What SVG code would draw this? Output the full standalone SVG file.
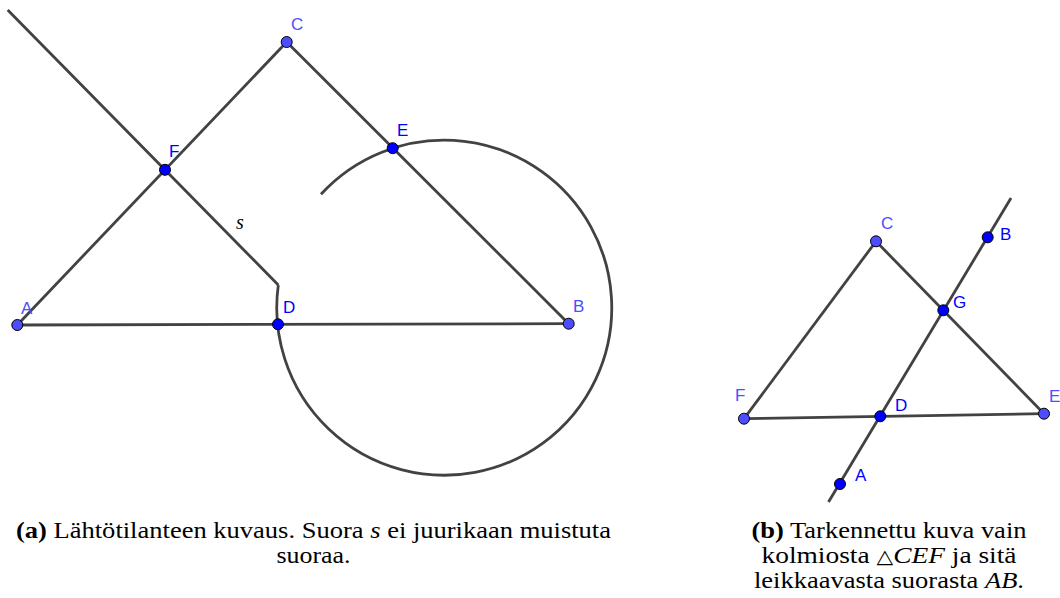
<svg xmlns="http://www.w3.org/2000/svg" width="1060" height="598" viewBox="0 0 1060 598">
<style>
.ln{stroke:#424242;stroke-width:2.8;fill:none;stroke-linecap:butt;stroke-linejoin:miter}
.pf{fill:#4d4dff;stroke:#000;stroke-width:1}
.pd{fill:#0000ff;stroke:#000;stroke-width:1}
.lf{font-family:"Liberation Sans",Arial,sans-serif;font-size:17px;fill:#4d4dff}
.ld{font-family:"Liberation Sans",Arial,sans-serif;font-size:17px;fill:#0000ff}
.cap{font-family:"Liberation Serif","Times New Roman",serif;font-size:24px;fill:#000}
.it{font-style:italic}
.bd{font-weight:bold}
.tri{font-family:"DejaVu Sans",sans-serif;font-size:19px}
</style>
<rect width="1060" height="598" fill="#fff"/>
<g id="connectors">
  <line class="ln" x1="17.3" y1="325" x2="286.7" y2="42"/>
  <line class="ln" x1="286.7" y1="42" x2="568.7" y2="323.7"/>
  <line class="ln" x1="17.3" y1="325" x2="568.7" y2="323.7"/>
  <line class="ln" x1="7.7" y1="10" x2="278.3" y2="285"/>
  <path class="ln" d="M 321 194.3 A 167.5 167.5 0 1 1 278.3 285"/>
  <line class="ln" x1="744" y1="418.7" x2="876" y2="241.3"/>
  <line class="ln" x1="876" y1="241.3" x2="1044" y2="413.7"/>
  <line class="ln" x1="744" y1="418.7" x2="1044" y2="413.7"/>
  <line class="ln" x1="828.5" y1="502" x2="1011" y2="198"/>
</g>
<text class="it" x="236" y="229" font-family="Liberation Serif,serif" font-size="20">s</text>
<g id="a-A"><circle class="pf" cx="17.3" cy="325" r="5.5"/><text class="lf" x="21" y="314">A</text></g>
<g id="a-C"><circle class="pf" cx="286.7" cy="42" r="5.5"/><text class="lf" x="291" y="30">C</text></g>
<g id="a-B"><circle class="pf" cx="568.7" cy="323.7" r="5.5"/><text class="lf" x="573" y="312">B</text></g>
<g id="a-F"><circle class="pd" cx="165" cy="169.8" r="5.5"/><text class="ld" x="169" y="157">F</text></g>
<g id="a-E"><circle class="pd" cx="392.7" cy="148.2" r="5.5"/><text class="ld" x="397" y="136">E</text></g>
<g id="a-D"><circle class="pd" cx="278" cy="324.3" r="5.5"/><text class="ld" x="283" y="313">D</text></g>
<g id="b-C"><circle class="pf" cx="876" cy="241.3" r="5.5"/><text class="lf" x="881" y="229">C</text></g>
<g id="b-F"><circle class="pf" cx="744" cy="418.7" r="5.5"/><text class="lf" x="735" y="401">F</text></g>
<g id="b-E"><circle class="pf" cx="1044" cy="413.7" r="5.5"/><text class="lf" x="1049" y="402">E</text></g>
<g id="b-B"><circle class="pd" cx="987.7" cy="237.3" r="5.5"/><text class="ld" x="1000" y="240">B</text></g>
<g id="b-G"><circle class="pd" cx="943.3" cy="310.3" r="5.5"/><text class="ld" x="953" y="308">G</text></g>
<g id="b-D"><circle class="pd" cx="880.3" cy="416.3" r="5.5"/><text class="ld" x="895" y="411">D</text></g>
<g id="b-A"><circle class="pd" cx="840" cy="484" r="5.5"/><text class="ld" x="855" y="481">A</text></g>
<g id="caption-a" text-anchor="middle">
  <text class="cap" x="313.5" y="537.5" textLength="595" lengthAdjust="spacingAndGlyphs"><tspan class="bd">(a)</tspan> Lähtötilanteen kuvaus. Suora <tspan class="it">s</tspan> ei juurikaan muistuta</text>
  <text class="cap" x="313.5" y="562.5" textLength="74" lengthAdjust="spacingAndGlyphs">suoraa.</text>
</g>
<g id="caption-b" text-anchor="middle">
  <text class="cap" x="889" y="537.5" textLength="275" lengthAdjust="spacingAndGlyphs"><tspan class="bd">(b)</tspan> Tarkennettu kuva vain</text>
  <text class="cap" x="889" y="562.5" textLength="255" lengthAdjust="spacingAndGlyphs">kolmiosta <tspan class="tri">△</tspan><tspan class="it">CEF</tspan> ja sitä</text>
  <text class="cap" x="889" y="587.5" textLength="270" lengthAdjust="spacingAndGlyphs">leikkaavasta suorasta <tspan class="it">AB</tspan>.</text>
</g>
</svg>
